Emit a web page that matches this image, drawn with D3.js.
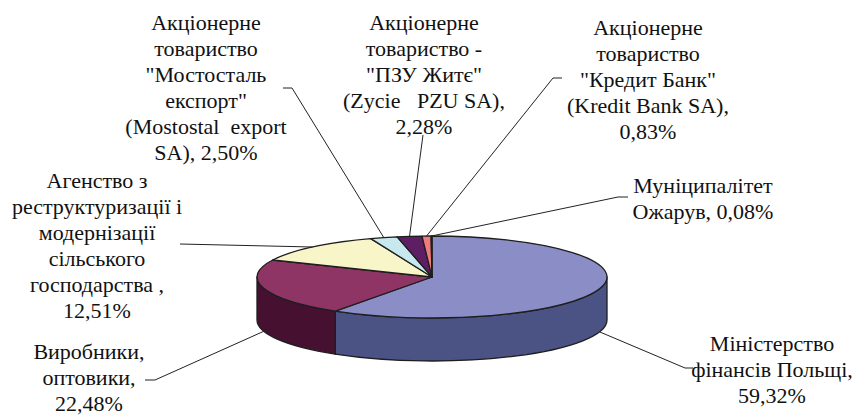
<!DOCTYPE html>
<html>
<head>
<meta charset="utf-8">
<script src="https://cdn.jsdelivr.net/npm/d3@7"></script>
</head>
<body style="margin:0">
<script>
// shares of owners, %
var owners = ["Міністерство фінансів Польщі", "Виробники, оптовики", "Агенство з реструктуризації і модернізації сільського господарства",
  "АТ Мостосталь експорт", "АТ ПЗУ Житє", "АТ Кредит Банк", "Муніципалітет Ожарув"];
var shares = [59.32, 22.48, 12.51, 2.50, 2.28, 0.83, 0.08];
var labelLines = [
  ["Міністерство", "фінансів Польщі,", "59,32%"],
  ["Виробники,", "оптовики,", "22,48%"],
  ["Агенство з", "реструктуризації і", "модернізації", "сільського", "господарства ,", "12,51%"],
  ["Акціонерне", "товариство", "\"Мостосталь", "експорт\"", "(Mostostal\u00a0 export", "SA), 2,50%"],
  ["Акціонерне", "товариство -", "\"ПЗУ Житє\"", "(Zycie \u00a0 PZU SA),", "2,28%"],
  ["Акціонерне", "товариство", "\"Кредит Банк\"", "(Kredit Bank SA),", "0,83%"],
  ["Муніципалітет", "Ожарув, 0,08%"]
];
var topColors = ["#8a8dc6", "#8f3565", "#f8f6c8", "#c6e8ee", "#5e1e63", "#f07b7b", "#0066cc"];
var sideColors = ["#4b5284", "#461031", "#b8b690", "#8fb0b5", "#3a0f3d", "#b05050", "#004488"];

// label placement (centre x, first line y) and leader start points
var labelPos = [[772, 343], [89, 351], [97, 180], [206, 22], [424, 22], [648, 27], [703, 185]];
var leaderStart = [
  [[693, 368], [685, 368]],
  [[145, 380], [155, 380]],
  [[180, 244]],
  [[283, 88], [292, 88]],
  [[423, 135]],
  [[562, 78], [553, 78]],
  [[628, 197], [618, 197]]
];

var width = 855, height = 416;
var cx = 432, cy = 277, rx = 175, ry = 41, depth = 43;
var lineH = 26;

var svg = d3.select("body").append("svg")
  .attr("width", width)
  .attr("height", height)
  .style("font-family", "'Liberation Serif'");

var pie = d3.pie().sort(null).startAngle(0).endAngle(2 * Math.PI);
var arcs = pie(shares);

function pt(a, dy) {
  return [cx + rx * Math.sin(a), cy - ry * Math.cos(a) + (dy || 0)];
}

function topPath(d) {
  var p0 = pt(d.startAngle), p1 = pt(d.endAngle);
  var large = (d.endAngle - d.startAngle) > Math.PI ? 1 : 0;
  return "M" + cx + "," + cy + "L" + p0 + "A" + rx + "," + ry + " 0 " + large + " 1 " + p1 + "Z";
}

function wallPath(d) {
  var b0 = Math.max(d.startAngle, Math.PI / 2), b1 = Math.min(d.endAngle, 3 * Math.PI / 2);
  if (b1 <= b0) return null;
  var p0 = pt(b0), p1 = pt(b1), q0 = pt(b0, depth), q1 = pt(b1, depth);
  return "M" + p0 + "A" + rx + "," + ry + " 0 0 1 " + p1 + "L" + q1 +
    "A" + rx + "," + ry + " 0 0 0 " + q0 + "Z";
}

// side walls
svg.append("g").selectAll("path")
  .data(arcs.filter(function(d) { return wallPath(d) !== null; }))
  .enter().append("path")
  .attr("d", wallPath)
  .attr("fill", function(d) { return sideColors[d.index]; })
  .attr("stroke", "#1e1e1e")
  .attr("stroke-width", 1.3)
  .attr("stroke-linejoin", "round");

// top faces
svg.append("g").selectAll("path")
  .data(arcs)
  .enter().append("path")
  .attr("d", topPath)
  .attr("fill", function(d) { return topColors[d.index]; })
  .attr("stroke", "#1e1e1e")
  .attr("stroke-width", 1.3)
  .attr("stroke-linejoin", "round");

// leader lines
var line = d3.line();
svg.append("g").selectAll("path")
  .data(arcs)
  .enter().append("path")
  .attr("d", function(d) {
    var mid = (d.startAngle + d.endAngle) / 2;
    var front = Math.cos(mid) < 0;
    var end = pt(mid, front ? depth : 0);
    return line(leaderStart[d.index].concat([end]));
  })
  .attr("fill", "none")
  .attr("stroke", "#222")
  .attr("stroke-width", 1);

// labels, one text per line
var rows = [];
arcs.forEach(function(d) {
  labelLines[d.index].forEach(function(t, i) {
    rows.push({ t: t, x: labelPos[d.index][0], y: labelPos[d.index][1] + i * lineH });
  });
});

svg.append("g").selectAll("text")
  .data(rows)
  .enter().append("text")
  .style("font-family", "'Liberation Serif'")
  .style("font-size", "22px")
  .style("fill", "#111")
  .attr("text-anchor", "middle")
  .attr("x", function(s) { return s.x; })
  .attr("y", function(s) { return s.y; })
  .attr("dy", "0.35em")
  .text(function(s) { return s.t; });
</script>
</body>
</html>
